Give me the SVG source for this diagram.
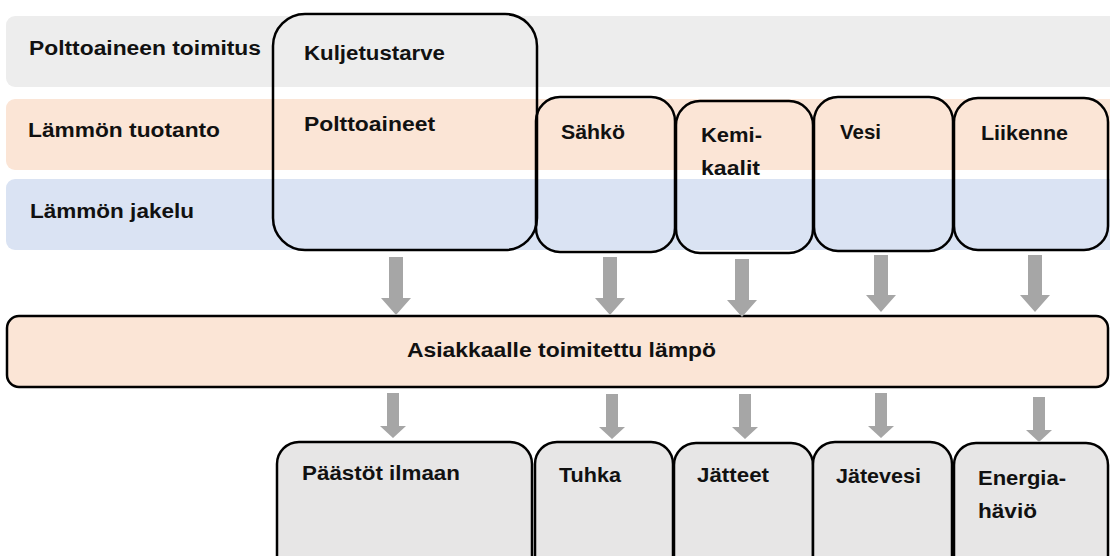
<svg xmlns="http://www.w3.org/2000/svg" width="1110" height="556" viewBox="0 0 1110 556">
<defs>
<style>
.t{font-family:"Liberation Sans",Arial,sans-serif;font-weight:bold;font-size:20px;fill:#111;dominant-baseline:central}
.box{fill:none;stroke:#000;stroke-width:2.5}
.out{fill:#E7E6E6;stroke:#000;stroke-width:2.5}
.arr{fill:#A6A6A6}
</style>
</defs>
<rect width="1110" height="556" fill="#fff"/>
<g id="bands">
<rect x="6" y="16" width="1114" height="71" rx="9" fill="#EDEDED"/>
<rect x="6" y="99" width="1114" height="71" rx="9" fill="#FBE5D6"/>
<rect x="6" y="179" width="1114" height="71" rx="9" fill="#DAE3F3"/>
<text class="t" x="29" y="48" textLength="232" lengthAdjust="spacingAndGlyphs">Polttoaineen toimitus</text>
<text class="t" x="28" y="130" textLength="192" lengthAdjust="spacingAndGlyphs">Lämmön tuotanto</text>
<text class="t" x="30" y="211" textLength="164" lengthAdjust="spacingAndGlyphs">Lämmön jakelu</text>
</g>
<g id="n-kuljetus">
<rect class="box" x="273" y="14" width="264" height="236" rx="32"/>
<text class="t" x="304" y="53" textLength="141" lengthAdjust="spacingAndGlyphs">Kuljetustarve</text>
<text class="t" x="304" y="124" textLength="131" lengthAdjust="spacingAndGlyphs">Polttoaineet</text>
</g>
<g id="n-sahko">
<rect class="box" x="536" y="97" width="139" height="155" rx="24"/>
<text class="t" x="561" y="132" textLength="64" lengthAdjust="spacingAndGlyphs">Sähkö</text>
</g>
<g id="n-kemi">
<rect class="box" x="676" y="101" width="137" height="152" rx="24"/>
<text class="t" x="701" y="135" textLength="61" lengthAdjust="spacingAndGlyphs">Kemi-</text>
<text class="t" x="701" y="168" textLength="59" lengthAdjust="spacingAndGlyphs">kaalit</text>
</g>
<g id="n-vesi">
<rect class="box" x="814" y="97" width="139" height="154" rx="24"/>
<text class="t" x="840" y="132" textLength="41" lengthAdjust="spacingAndGlyphs">Vesi</text>
</g>
<g id="n-liikenne">
<rect class="box" x="954" y="98" width="154" height="152" rx="24"/>
<text class="t" x="981" y="133" textLength="87" lengthAdjust="spacingAndGlyphs">Liikenne</text>
</g>
<g id="n-asiakas">
<rect x="7" y="316" width="1101" height="71" rx="12" fill="#FBE5D6" stroke="#000" stroke-width="2.5"/>
<text class="t" x="407" y="350" textLength="309" lengthAdjust="spacingAndGlyphs">Asiakkaalle toimitettu lämpö</text>
</g>
<g id="n-paastot">
<rect class="out" x="277" y="442" width="255" height="140" rx="22"/>
<text class="t" x="302" y="473" textLength="158" lengthAdjust="spacingAndGlyphs">Päästöt ilmaan</text>
</g>
<g id="n-tuhka">
<rect class="out" x="535" y="442" width="138" height="140" rx="22"/>
<text class="t" x="559" y="475" textLength="62" lengthAdjust="spacingAndGlyphs">Tuhka</text>
</g>
<g id="n-jatteet">
<rect class="out" x="674" y="443" width="139" height="140" rx="22"/>
<text class="t" x="697" y="475" textLength="72" lengthAdjust="spacingAndGlyphs">Jätteet</text>
</g>
<g id="n-jatevesi">
<rect class="out" x="813" y="442" width="139" height="140" rx="22"/>
<text class="t" x="836" y="476" textLength="85" lengthAdjust="spacingAndGlyphs">Jätevesi</text>
</g>
<g id="n-energia">
<rect class="out" x="954" y="443" width="154" height="140" rx="22"/>
<text class="t" x="978" y="478" textLength="88" lengthAdjust="spacingAndGlyphs">Energia-</text>
<text class="t" x="978" y="511" textLength="59" lengthAdjust="spacingAndGlyphs">häviö</text>
</g>
<g id="connectors">
<path class="arr" d="M389 257h14v41h8l-15 17l-15-17h8z"/>
<path class="arr" d="M603 257h14v41h8l-15 17l-15-17h8z"/>
<path class="arr" d="M735 259h14v41h8l-15 17l-15-17h8z"/>
<path class="arr" d="M874 255h14v40h8l-15 17l-15-17h8z"/>
<path class="arr" d="M1028 255h14v40h8l-15 17l-15-17h8z"/>
<path class="arr" d="M387 393h12v33h7l-13 12l-13-12h7z"/>
<path class="arr" d="M606 394h12v33h7l-13 12l-13-12h7z"/>
<path class="arr" d="M739 394h12v33h7l-13 12l-13-12h7z"/>
<path class="arr" d="M875 393h12v33h7l-13 12l-13-12h7z"/>
<path class="arr" d="M1033 397h12v33h7l-13 12l-13-12h7z"/>
</g>
</svg>
